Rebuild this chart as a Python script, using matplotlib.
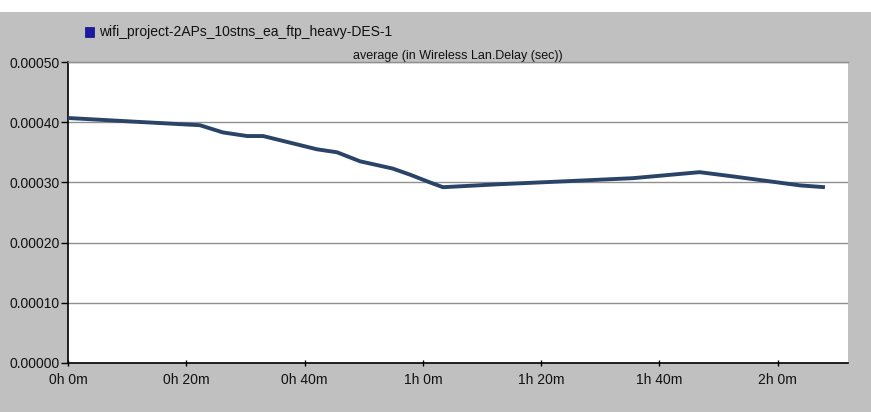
import matplotlib
matplotlib.use("Agg")
import matplotlib.pyplot as plt
from matplotlib.patches import Rectangle

# Average wireless LAN delay over simulated time
time_min = [0, 11, 22.3, 26.2, 30.3, 33, 42.1, 45.5, 49.4, 54.9, 57.8, 61.2, 63.4,
            73, 84.4, 95.5, 106.8, 112.4, 123.8, 128]
delay_sec = [0.000407, 0.000401, 0.000395, 0.000383, 0.000377, 0.000377, 0.000355,
             0.000350, 0.000335, 0.000323, 0.000313, 0.000300, 0.000292,
             0.000297, 0.000302, 0.000307, 0.000317, 0.000310, 0.000295, 0.000292]

x_ticks = [0, 20, 40, 60, 80, 100, 120]
x_labels = ["0h 0m", "0h 20m", "0h 40m", "1h 0m", "1h 20m", "1h 40m", "2h 0m"]
y_ticks = [0.0, 0.0001, 0.0002, 0.0003, 0.0004, 0.0005]
y_labels = ["0.00000", "0.00010", "0.00020", "0.00030", "0.00040", "0.00050"]

series_name = "wifi_project-2APs_10stns_ea_ftp_heavy-DES-1"
panel_title = "average (in Wireless Lan.Delay (sec))"

W, H = 871, 412
plt.rcParams["font.family"] = ["Liberation Sans", "DejaVu Sans"]

fig = plt.figure(figsize=(W / 100, H / 100), dpi=100)
fig.patch.set_facecolor("#c0c0c0")

# white strip along the top edge
fig.add_artist(Rectangle((0, 1 - 12 / H), 1, 12 / H, transform=fig.transFigure,
                         facecolor="white", edgecolor="none", zorder=0))

left, right, top, bottom = 68, 848, 62, 363
ax = fig.add_axes([left / W, 1 - bottom / H, (right - left) / W, (bottom - top) / H])
ax.set_facecolor("white")

ax.plot(time_min, delay_sec, color="#2a4468", lw=2.8, solid_capstyle="butt",
        solid_joinstyle="round", zorder=3)

ax.set_xlim(0, 131.9)
ax.set_ylim(0, 0.0005)
ax.set_xticks(x_ticks)
ax.set_xticklabels(x_labels)
ax.set_yticks(y_ticks)
ax.set_yticklabels(y_labels)

ax.yaxis.grid(True, color="#8f8f8f", lw=1.0)
ax.set_axisbelow(True)

ax.tick_params(axis="y", direction="out", length=5, width=1, color="black",
               labelsize=10, pad=1, labelcolor="#111111")
ax.tick_params(axis="x", direction="inout", length=5, width=1, color="black",
               labelsize=10, pad=5, labelcolor="#111111")

for side in ("left", "bottom"):
    ax.spines[side].set_color("black")
    ax.spines[side].set_linewidth(1.2)
ax.spines["top"].set_color("#8f8f8f")
ax.spines["top"].set_linewidth(1.0)
ax.spines["right"].set_visible(False)

ax.set_title(panel_title, fontsize=9, color="#111111", pad=2)

# series key above the plot
fig.add_artist(Rectangle((85 / W, 1 - 37 / H), 9 / W, 10 / H, transform=fig.transFigure,
                         facecolor="#1a1aa8", edgecolor="#101060", lw=0.5))
fig.text(99 / W, 1 - 32 / H, series_name, fontsize=10, color="#111111",
         ha="left", va="center")

fig.savefig("out.png", dpi=100, facecolor=fig.get_facecolor())
